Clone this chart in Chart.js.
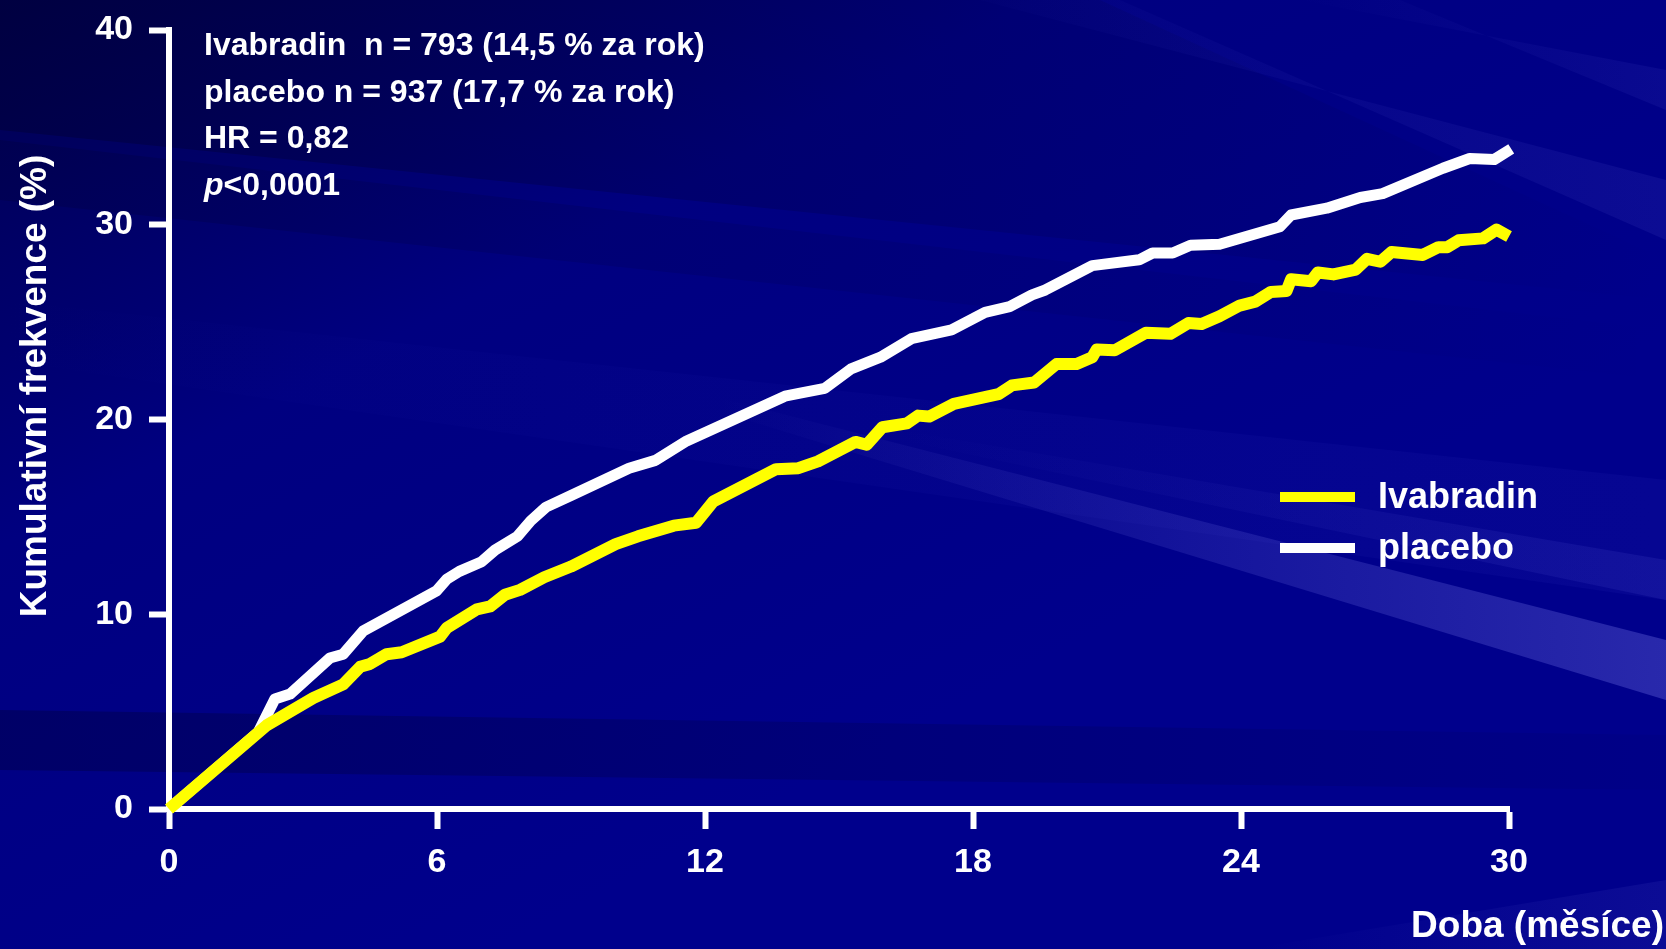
<!DOCTYPE html>
<html>
<head>
<meta charset="utf-8">
<script src="https://cdn.jsdelivr.net/npm/chart.js@4/dist/chart.umd.min.js"></script>
<style>
  html, body { margin: 0; padding: 0; background: #000078; }
  #wrap { width: 1666px; height: 949px; }
  canvas { display: block; }
</style>
</head>
<body>
<div id="wrap"><canvas id="chart" width="1666" height="949"></canvas></div>
<script>
// Kaplan–Meier style cumulative event curves (months vs. %)
const monthTicks = [0, 6, 12, 18, 24, 30];
const percentTicks = [0, 10, 20, 30, 40];

const ivabradinMonths = [0, 2.19, 3.23, 3.9, 4.28, 4.5, 4.87, 5.21, 6.07, 6.22, 6.89, 7.19, 7.52, 7.86, 8.4, 9.0,
  10.0, 10.5, 11.3, 11.8, 12.19, 13.59, 14.09, 14.53, 15.37, 15.62, 15.97, 16.52, 16.77, 17.02, 17.57,
  18.57, 18.87, 19.37, 19.87, 20.32, 20.67, 20.77, 21.17, 21.87, 22.42, 22.82, 23.12, 23.52, 23.97,
  24.32, 24.67, 25.02, 25.12, 25.57, 25.72, 26.07, 26.57, 26.82, 27.12, 27.37, 28.07, 28.42, 28.62,
  28.87, 29.42, 29.72, 30.0];
const ivabradinRate = [0, 4.3, 5.7, 6.4, 7.3, 7.45, 7.95, 8.05, 8.85, 9.3, 10.25, 10.4, 11.0, 11.25, 11.9, 12.45,
  13.6, 14.0, 14.55, 14.7, 15.8, 17.45, 17.5, 17.85, 18.85, 18.7, 19.6, 19.8, 20.2, 20.15, 20.8,
  21.3, 21.75, 21.9, 22.85, 22.85, 23.2, 23.6, 23.55, 24.45, 24.4, 24.95, 24.9, 25.3, 25.85,
  26.05, 26.55, 26.6, 27.2, 27.1, 27.55, 27.45, 27.7, 28.25, 28.1, 28.6, 28.45, 28.85, 28.85,
  29.2, 29.3, 29.75, 29.4];

const placeboMonths = [0, 2.0, 2.37, 2.71, 3.6, 3.9, 4.35, 5.99, 6.22, 6.5, 7.0, 7.3, 7.8, 8.1, 8.44, 9.0,
  10.3, 10.89, 11.59, 13.79, 14.13, 14.68, 15.27, 15.93, 16.62, 17.52, 18.27, 18.82, 19.32, 19.62,
  20.67, 21.72, 22.02, 22.47, 22.87, 23.52, 24.87, 25.12, 25.92, 26.67, 27.17, 28.52, 29.12, 29.67, 30.05];
const placeboRate = [0, 3.95, 5.65, 5.9, 7.75, 7.95, 9.15, 11.2, 11.8, 12.2, 12.7, 13.3, 14.0, 14.8, 15.5, 16.1,
  17.5, 17.9, 18.9, 21.2, 21.35, 21.6, 22.6, 23.2, 24.15, 24.6, 25.5, 25.8, 26.4, 26.65,
  27.9, 28.2, 28.55, 28.55, 28.95, 29.0, 29.9, 30.5, 30.85, 31.4, 31.6, 32.9, 33.4, 33.35, 33.9];

const seriesNames = ['Ivabradin', 'placebo'];
const seriesColors = ['#ffff00', '#ffffff'];

const statLines = [
  'Ivabradin  n = 793 (14,5 % za rok)',
  'placebo n = 937 (17,7 % za rok)',
  'HR = 0,82',
  '<0,0001'
];
const pPrefix = 'p';

const xTitle = 'Doba (měsíce)';
const yTitle = 'Kumulativní frekvence (%)';

const FONT = '"Liberation Sans", Arial, sans-serif';

function toPoints(xs, ys) {
  return xs.map((x, i) => ({ x: x, y: ys[i] }));
}

// Slide-style background: dark blue with soft diagonal light streaks
const backdrop = {
  id: 'backdrop',
  beforeDraw(chart) {
    const { ctx, width, height } = chart;
    ctx.save();
    const g = ctx.createLinearGradient(0, 0, width * 0.3, height);
    g.addColorStop(0, '#00004e');
    g.addColorStop(0.45, '#000080');
    g.addColorStop(1, '#00008c');
    ctx.fillStyle = g;
    ctx.fillRect(0, 0, width, height);

    const band = (pts, x0, x1, c0, c1) => {
      const lg = ctx.createLinearGradient(x0, 0, x1, 0);
      lg.addColorStop(0, c0);
      lg.addColorStop(1, c1);
      ctx.fillStyle = lg;
      ctx.beginPath();
      ctx.moveTo(pts[0][0], pts[0][1]);
      for (let i = 1; i < pts.length; i++) ctx.lineTo(pts[i][0], pts[i][1]);
      ctx.closePath();
      ctx.fill();
    };
    // darker upper-left sweep
    band([[0, 0], [1100, 0], [1666, 260], [1666, 300], [0, 130]], 0, 1666, 'rgba(0,0,40,0.35)', 'rgba(0,0,40,0.0)');
    band([[0, 140], [1666, 330], [1666, 380], [0, 200]], 0, 1666, 'rgba(0,0,40,0.2)', 'rgba(0,0,40,0.0)');
    // lighter streaks top right
    band([[980, 0], [1120, 0], [1666, 240], [1666, 180]], 900, 1666, 'rgba(40,40,170,0.0)', 'rgba(40,40,170,0.3)');
    band([[1300, 0], [1400, 0], [1666, 110], [1666, 70]], 1300, 1666, 'rgba(40,40,170,0.0)', 'rgba(40,40,170,0.25)');
    // broad mid streak
    band([[0, 300], [0, 360], [1666, 600], [1666, 480]], 0, 1666, 'rgba(20,20,160,0.0)', 'rgba(20,20,160,0.3)');
    // bright streak toward lower right
    band([[720, 398], [1666, 640], [1666, 700], [720, 412]], 720, 1666, 'rgba(90,90,210,0.0)', 'rgba(90,90,210,0.45)');
    band([[900, 430], [1666, 560], [1666, 600], [900, 440]], 900, 1666, 'rgba(70,70,200,0.0)', 'rgba(70,70,200,0.2)');
    // dark horizontal band near the bottom
    band([[0, 710], [1666, 735], [1666, 790], [0, 770]], 0, 1666, 'rgba(0,0,50,0.35)', 'rgba(0,0,50,0.05)');
    // faint light patch bottom right
    band([[1250, 949], [1666, 880], [1666, 949]], 1250, 1666, 'rgba(40,40,170,0.0)', 'rgba(40,40,170,0.3)');
    ctx.restore();
  }
};

// Titles, statistics block and legend
const overlay = {
  id: 'overlay',
  afterDraw(chart) {
    const { ctx, chartArea } = chart;
    ctx.save();
    ctx.fillStyle = '#ffffff';

    // statistics block
    ctx.font = 'bold 32px ' + FONT;
    ctx.textBaseline = 'middle';
    ctx.textAlign = 'left';
    const sx = chartArea.left + 35;
    statLines.forEach((line, i) => {
      const y = chartArea.top + 16 + i * 46.7;
      if (i === statLines.length - 1) {
        ctx.font = 'italic bold 32px ' + FONT;
        ctx.fillText(pPrefix, sx, y);
        const w = ctx.measureText(pPrefix).width;
        ctx.font = 'bold 32px ' + FONT;
        ctx.fillText(line, sx + w, y);
      } else {
        ctx.fillText(line, sx, y);
      }
    });

    // axis titles
    ctx.font = 'bold 37px ' + FONT;
    ctx.textAlign = 'right';
    ctx.fillText(xTitle, 1664, 927);
    ctx.save();
    ctx.translate(36, 386);
    ctx.rotate(-Math.PI / 2);
    ctx.textAlign = 'center';
    ctx.fillText(yTitle, 0, 0);
    ctx.restore();

    // legend
    ctx.font = 'bold 36px ' + FONT;
    ctx.textAlign = 'left';
    chart.data.datasets.forEach((ds, i) => {
      const y = 497 + i * 51;
      ctx.strokeStyle = ds.borderColor;
      ctx.lineWidth = 10;
      ctx.beginPath();
      ctx.moveTo(1280, y);
      ctx.lineTo(1355, y);
      ctx.stroke();
      ctx.fillStyle = '#ffffff';
      ctx.fillText(ds.label, 1378, y + 1);
    });
    ctx.restore();
  }
};

const axisCommon = {
  grid: {
    drawOnChartArea: false,
    drawTicks: true,
    tickLength: 20,
    tickWidth: 6,
    tickColor: '#ffffff',
    color: '#ffffff'
  },
  border: { display: true, color: '#ffffff', width: 6 }
};

new Chart(document.getElementById('chart'), {
  type: 'line',
  data: {
    datasets: [
      {
        label: seriesNames[0],
        data: toPoints(ivabradinMonths, ivabradinRate),
        borderColor: seriesColors[0],
        borderWidth: 12,
        pointRadius: 0,
        tension: 0,
        borderJoinStyle: 'round',
        clip: false
      },
      {
        label: seriesNames[1],
        data: toPoints(placeboMonths, placeboRate),
        borderColor: seriesColors[1],
        borderWidth: 11,
        pointRadius: 0,
        tension: 0,
        borderJoinStyle: 'round',
        clip: false
      }
    ]
  },
  options: {
    responsive: false,
    animation: false,
    devicePixelRatio: 1,
    layout: { padding: { left: 0, top: 30, right: 157, bottom: 0 } },
    plugins: { legend: { display: false }, tooltip: { enabled: false } },
    scales: {
      x: {
        type: 'linear',
        min: 0,
        max: 30,
        ...axisCommon,
        afterBuildTicks: (s) => { s.ticks = monthTicks.map(v => ({ value: v })); },
        afterFit: (s) => { s.height = 140; s.paddingLeft = 0; s.paddingRight = 0; },
        ticks: {
          color: '#ffffff',
          padding: 13,
          maxRotation: 0,
          font: { family: FONT, size: 34, weight: 'bold' }
        }
      },
      y: {
        type: 'linear',
        min: 0,
        max: 40,
        ...axisCommon,
        afterBuildTicks: (s) => { s.ticks = percentTicks.map(v => ({ value: v })); },
        afterFit: (s) => { s.width = 169; s.paddingTop = 0; s.paddingBottom = 0; },
        ticks: {
          color: '#ffffff',
          padding: 16,
          font: { family: FONT, size: 34, weight: 'bold' }
        }
      }
    }
  },
  plugins: [backdrop, overlay]
});
</script>
</body>
</html>
